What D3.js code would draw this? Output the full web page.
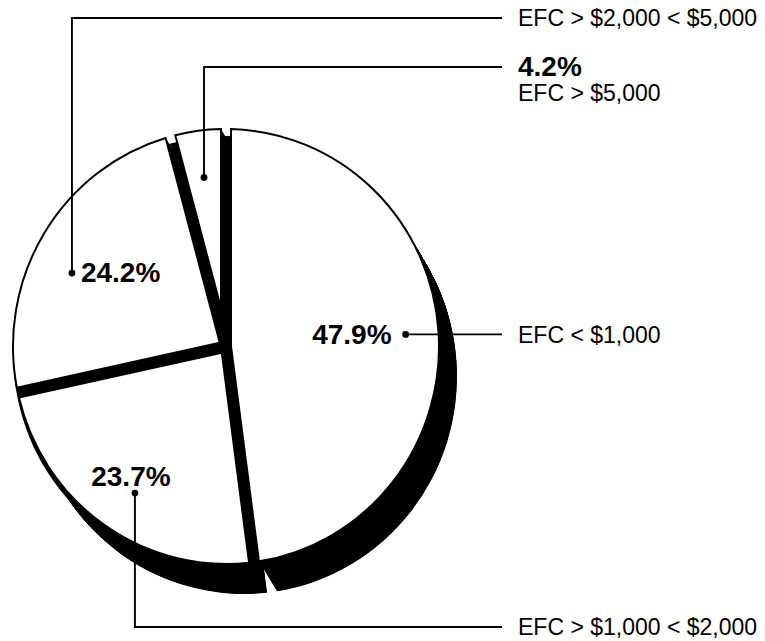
<!DOCTYPE html>
<meta charset="utf-8">
<style>
    body {
        margin: 0;
        background: #fff;
    }

    svg {
        display: block;
        font-family: "Liberation Sans", Arial, Helvetica, sans-serif;
    }

    .face {
        fill: #fff;
        stroke: #000;
        stroke-width: 2px;
        stroke-linejoin: miter;
    }

    .depth path,
    .core path {
        fill: #000;
    }

    .leader {
        fill: none;
        stroke: #000;
        stroke-width: 1.9px;
    }

    .pct {
        font-weight: bold;
        font-size: 28px;
    }

    .cat {
        font-size: 23px;
    }
</style>

<body>
    <script src="https://d3js.org/d3.v7.min.js"></script>

    <script>

        // data, clockwise from 12 o'clock
        var categories = ["EFC < $1,000", "EFC > $1,000 < $2,000", "EFC > $2,000 < $5,000", "EFC > $5,000"];
        var shares = [47.9, 23.7, 24.2, 4.2];
        var shareLabels = ["47.9%", "23.7%", "24.2%", "4.2%"];

        var width = 765,
            height = 641;

        var cx = 226, cy = 346.5,
            radius = 213,
            squash = 1.021,      // the printed pie is a touch taller than wide
            gap = 10,            // width of the black separators
            depth = [18, 30],    // extrusion of the black base
            coreDrop = 7;        // separators stay white for this much at the top rim

        // leader layout: where the dot sits (radius, nudge off the bisector in degrees)
        var dotRadius = [180, 170, 170, 167],
            dotNudge = [0, -2.7, -6.3, 0];
        // how the leader leaves the dot and the y of the row it ends on
        var route = ["right", "down", "up", "up"],
            rowY = [null, 627, 18, 67];
        var lineEnd = 502, textX = 518;
        // percentage text placement relative to the dot
        var pctPlace = [
            { anchor: "end", dx: -14, dy: 0 },
            { anchor: "middle", dx: -4, dy: -17 },
            { anchor: "start", dx: 9, dy: -1 },
            { anchor: "start", row: true }
        ];

        var svg = d3.select("body").append("svg")
            .attr("width", width)
            .attr("height", height);

        var pie = d3.pie().sort(null).value(function (d) { return d; });
        var slices = pie(shares);

        var halfPad = radius * Math.sin(gap / radius / 2);

        var arc = d3.arc()
            .outerRadius(radius)
            .padRadius(radius)
            .padAngle(gap / radius)
            .innerRadius(function (d) {
                // keep the gap edges parallel right down to the tip
                return halfPad / Math.sin((d.endAngle - d.startAngle) / 2) * 1.003;
            });

        var solidArc = d3.arc()
            .outerRadius(radius)
            .innerRadius(0);

        // black extruded base, swept down and to the right
        var steps = d3.range(0, 1.0001, 1 / 60);
        svg.append("g").attr("class", "depth")
            .selectAll("g")
            .data(steps)
            .join("g")
            .attr("transform", function (t) {
                return "translate(" + (cx + depth[0] * t) + "," + (cy + depth[1] * t) + ") scale(1," + squash + ")";
            })
            .selectAll("path")
            .data(slices)
            .join("path")
            .attr("d", arc);

        // black under the separators
        svg.append("g").attr("class", "core")
            .attr("transform", "translate(" + cx + "," + (cy + coreDrop) + ") scale(1," + squash + ")")
            .selectAll("path")
            .data(slices)
            .join("path")
            .attr("d", solidArc);

        // white faces
        svg.append("g")
            .attr("transform", "translate(" + cx + "," + cy + ") scale(1," + squash + ")")
            .selectAll("path")
            .data(slices)
            .join("path")
            .attr("class", "face")
            .attr("d", arc)
            .attr("vector-effect", "non-scaling-stroke");

        function dotPos(d, i) {
            var a = (d.startAngle + d.endAngle) / 2 + dotNudge[i] * Math.PI / 180;
            return [cx + dotRadius[i] * Math.sin(a), cy - dotRadius[i] * Math.cos(a) * squash];
        }

        var labels = svg.append("g")
            .selectAll("g")
            .data(slices)
            .join("g");

        labels.each(function (d, i) {
            var g = d3.select(this);
            var p = dotPos(d, i);
            var y = route[i] === "right" ? p[1] : rowY[i];

            var path = d3.path();
            path.moveTo(p[0], p[1]);
            if (route[i] !== "right") path.lineTo(p[0], y);
            path.lineTo(lineEnd, y);

            g.append("path")
                .attr("class", "leader")
                .attr("d", path.toString());

            g.append("circle")
                .attr("cx", p[0])
                .attr("cy", p[1])
                .attr("r", 3.4);

            var pl = pctPlace[i];
            var pct = g.append("text")
                .attr("class", "pct")
                .attr("text-anchor", pl.anchor)
                .attr("dy", "0.36em")
                .text(shareLabels[i]);

            if (pl.row) {
                pct.attr("x", textX).attr("y", y - 1);
                g.append("text")
                    .attr("class", "cat")
                    .attr("x", textX)
                    .attr("y", y + 26)
                    .attr("dy", "0.36em")
                    .text(categories[i]);
            } else {
                pct.attr("x", p[0] + pl.dx).attr("y", p[1] + pl.dy);
                g.append("text")
                    .attr("class", "cat")
                    .attr("x", textX)
                    .attr("y", y)
                    .attr("dy", "0.36em")
                    .text(categories[i]);
            }
        });

    </script>

</body>

</html>
